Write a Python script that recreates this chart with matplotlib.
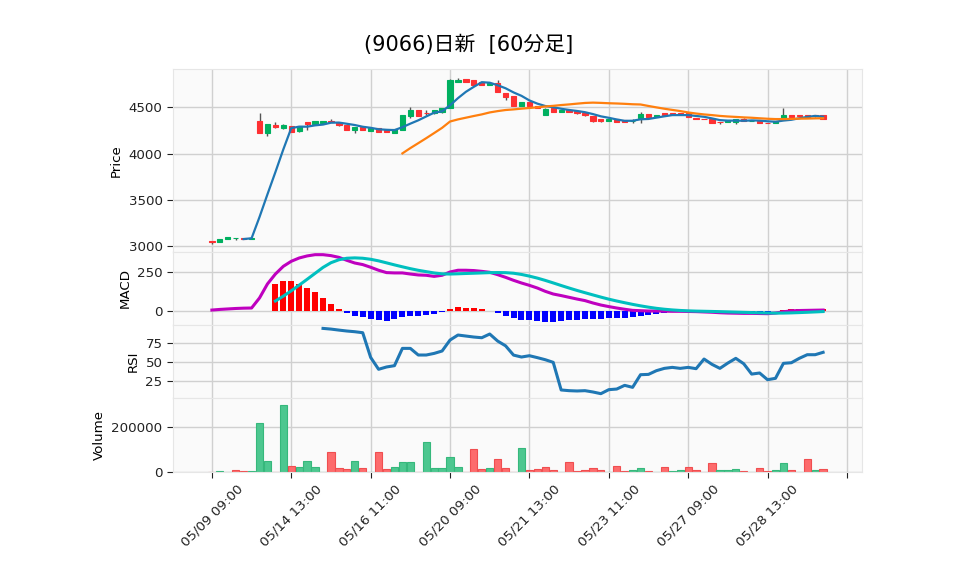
import matplotlib
matplotlib.use("Agg")
import matplotlib.pyplot as plt
import numpy as np
import pandas as pd

# ---- data ---------------------------------------------------------------
TITLE = "(9066)日新  [60分足]"
tick_labels = ["05/09 09:00", "05/14 13:00", "05/16 11:00", "05/20 09:00",
               "05/21 13:00", "05/23 11:00", "05/27 09:00", "05/28 13:00"]

opens = [3055, 3050, 3075, 3085, 3085, 3075, 4353, 4227, 4310, 4272,
         4295, 4248, 4342, 4320, 4328, 4353, 4335, 4310, 4260, 4292,
         4249, 4274, 4256, 4227, 4260, 4411, 4472, 4440, 4436, 4454,
         4490, 4778, 4803, 4796, 4774, 4742, 4760, 4656, 4624, 4519,
         4559, 4519, 4418, 4497, 4454, 4472, 4461, 4443, 4407, 4375,
         4357, 4371, 4364, 4355, 4389, 4429, 4400, 4440, 4440, 4433,
         4440, 4386, 4372, 4371, 4342, 4339, 4339, 4378, 4357, 4350,
         4330, 4328, 4382, 4418, 4412, 4412, 4418, 4418]
highs = [3058, 3075, 3097, 3085, 3085, 3090, 4443, 4320, 4338, 4315,
         4300, 4303, 4345, 4353, 4356, 4371, 4338, 4310, 4285, 4295,
         4281, 4276, 4256, 4267, 4418, 4500, 4475, 4472, 4472, 4490,
         4800, 4814, 4810, 4796, 4778, 4767, 4796, 4656, 4624, 4555,
         4559, 4519, 4490, 4500, 4472, 4475, 4465, 4445, 4410, 4378,
         4375, 4373, 4366, 4375, 4450, 4430, 4418, 4442, 4442, 4440,
         4442, 4388, 4373, 4372, 4343, 4364, 4375, 4380, 4357, 4352,
         4331, 4353, 4490, 4420, 4415, 4414, 4420, 4418]
lows = [3025, 3050, 3075, 3070, 3075, 3075, 4220, 4195, 4280, 4268,
        4237, 4238, 4256, 4320, 4325, 4338, 4300, 4256, 4220, 4260,
        4245, 4231, 4228, 4220, 4255, 4380, 4411, 4418, 4430, 4440,
        4490, 4775, 4778, 4742, 4760, 4742, 4663, 4580, 4519, 4519,
        4519, 4490, 4418, 4450, 4450, 4450, 4430, 4410, 4340, 4340,
        4355, 4346, 4344, 4335, 4330, 4393, 4398, 4420, 4420, 4415,
        4393, 4370, 4370, 4335, 4320, 4339, 4315, 4357, 4357, 4328,
        4326, 4326, 4380, 4390, 4405, 4398, 4398, 4378]
closes = [3045, 3080, 3095, 3085, 3082, 3090, 4227, 4320, 4282, 4310,
          4238, 4303, 4320, 4353, 4353, 4338, 4310, 4256, 4285, 4260,
          4281, 4231, 4228, 4267, 4418, 4472, 4411, 4436, 4472, 4490,
          4796, 4798, 4778, 4742, 4740, 4767, 4663, 4613, 4519, 4555,
          4519, 4490, 4485, 4454, 4472, 4454, 4436, 4418, 4353, 4350,
          4375, 4346, 4344, 4357, 4429, 4393, 4418, 4415, 4422, 4430,
          4393, 4371, 4370, 4335, 4338, 4364, 4375, 4357, 4357, 4328,
          4326, 4353, 4418, 4400, 4410, 4400, 4405, 4378]
volumes = [0, 3000, 0, 7500, 3000, 3000, 217700, 48000, 0, 300300,
           28700, 21000, 48000, 21000, 0, 88600, 16700, 12000, 48000, 16700,
           0, 88600, 12000, 21000, 43600, 43600, 0, 133800, 16700, 16700,
           66000, 21000, 0, 102000, 12000, 16700, 57000, 16700, 0, 109600,
           7500, 15000, 24000, 7500, 0, 46600, 4500, 7500, 19500, 7500,
           0, 28500, 3000, 10500, 19500, 3000, 0, 24000, 3000, 7500,
           24000, 7500, 0, 42000, 10500, 7500, 15000, 3000, 0, 19500,
           3000, 7500, 42000, 7500, 0, 60000, 7500, 12000]
macd_line = [6, 10, 13, 16, 18, 19, 83, 172, 235, 284,
             316, 337, 350, 358, 358, 352, 341, 322, 305, 295,
             278, 259, 244, 242, 242, 235, 229, 227, 220, 227,
             248, 259, 259, 257, 252, 246, 231, 214, 195, 178,
             163, 146, 125, 108, 98, 87, 76, 66, 51, 38,
             28, 19, 11, 4, 2, 0, 0, -1, -2, -2,
             -3, -4, -6, -8, -11, -13, -14, -15, -15, -16,
             -17, -13, -5, 1, 3, 4, 5, 6]
rsi = [None] * 14 + [
    93.6, 92.7, 91.4, 90.2, 89.3, 88.0, 56.0, 40.6, 43.6, 45.3,
    67.7, 67.7, 59.1, 59.1, 61.2, 64.3, 78.5, 85.0, 83.7, 82.4,
    81.5, 86.3, 77.2, 71.0, 59.0, 56.5, 58.2, 55.7, 53.0, 49.6,
    13.8, 12.9, 12.5, 12.9, 11.2, 9.0, 14.2, 15.0, 19.8, 17.2,
    33.6, 34.0, 38.8, 41.8, 43.1, 41.8, 43.1, 41.4, 53.9, 47.0,
    41.8, 48.7, 54.8, 47.8, 34.4, 35.8, 27.1, 28.9, 48.3, 49.1,
    54.8, 59.5, 59.5, 62.6]

# ---- derived series ----------------------------------------------------
df = pd.DataFrame({"Open": opens, "High": highs, "Low": lows,
                   "Close": closes, "Volume": volumes})
x = np.arange(len(df))
ma5 = df["Close"].rolling(5).mean()
ma25 = df["Close"].rolling(25).mean()
macd = pd.Series(macd_line, dtype=float)
signal = macd.rolling(9).mean()
hist = macd - signal
rsi_s = pd.Series(rsi, dtype=float)

UP, DOWN = "#00b060", "#fe3032"
VUP, VDOWN = "#4dc790", "#fd6b6c"
FS = 9.6

fig = plt.figure(figsize=(9.58, 5.75), dpi=100)
L, W = 173 / 958, 689 / 958


def panel(top, bottom, share=None):
    return fig.add_axes([L, 1 - bottom / 575, W, (bottom - top) / 575],
                        sharex=share)


ax_p = panel(69, 252)
ax_m = panel(252, 325, ax_p)
ax_r = panel(325, 398, ax_p)
ax_v = panel(398, 472, ax_p)
axes = [ax_p, ax_m, ax_r, ax_v]

for ax in axes:
    ax.set_facecolor("#fafafa")
    ax.grid(True, color="#d0d0d0", linewidth=1.0)
    ax.set_axisbelow(True)
    for s in ax.spines.values():
        s.set_color("#e6e6e6")
        s.set_linewidth(0.8)
    ax.tick_params(axis="y", labelsize=FS, length=4, width=0.8, colors="#222222")
    ax.tick_params(axis="x", length=0, labelbottom=False)

# ---- candles -----------------------------------------------------------
up = df["Close"] >= df["Open"]
ccol = np.where(up, UP, DOWN)
ax_p.vlines(x, df["Low"], df["High"], color="#555555", linewidth=1.0, zorder=2)
ax_p.bar(x, (df["Close"] - df["Open"]).abs(), bottom=np.minimum(df["Open"], df["Close"]),
         width=0.66, color=ccol, edgecolor=ccol, linewidth=0.8, zorder=3)
ax_p.plot(x, ma5, color="#1f77b4", linewidth=1.6, zorder=4)
ax_p.plot(x, ma25, color="#ff7f0e", linewidth=1.6, zorder=4)
ax_p.set_ylim(2938, 4913)
ax_p.set_yticks([3000, 3500, 4000, 4500])
ax_p.set_ylabel("Price", fontsize=FS)

# ---- MACD ----------------------------------------------------------------
hcol = np.where(hist >= 0, "red", "blue")
ax_m.bar(x, hist, width=0.75, color=hcol, zorder=2)
ax_m.plot(x, macd, color="#bf00bf", linewidth=2.2, zorder=3)
ax_m.plot(x, signal, color="#00bfbf", linewidth=2.2, zorder=3)
ax_m.set_ylim(-89, 375)
ax_m.set_yticks([0, 250])
ax_m.set_ylabel("MACD", fontsize=FS)

# ---- RSI -----------------------------------------------------------------
ax_r.plot(x, rsi_s, color="#1f77b4", linewidth=2.2)
ax_r.set_ylim(3.4, 98)
ax_r.set_yticks([25, 50, 75])
ax_r.set_ylabel("RSI", fontsize=FS)

# ---- volume --------------------------------------------------------------
prev = df["Close"].shift(1).fillna(df["Open"])
vup = df["Close"] >= prev
ax_v.bar(x, df["Volume"], width=0.92, color=np.where(vup, VUP, VDOWN),
         edgecolor=np.where(vup, "#36b87c", "#f04e50"), linewidth=0.8)
ax_v.set_ylim(0, 332000)
ax_v.set_yticks([0, 200000])
ax_v.ticklabel_format(axis="y", style="plain")
ax_v.set_ylabel("Volume", fontsize=FS)

ax_v.set_xlim(-4.9, 81.9)
ax_v.set_xticks(np.arange(0, 81, 10))
ax_v.set_xticklabels(tick_labels + [""], rotation=45, fontsize=FS)
ax_v.tick_params(axis="x", length=4, width=0.8, colors="#222222", labelbottom=True)

fig.text(469 / 958, 1 - 45 / 575, TITLE, ha="center", va="center", fontsize=15,
         family=["DejaVu Sans", "Noto Sans CJK JP"])

fig.savefig("out.png", dpi=100)
